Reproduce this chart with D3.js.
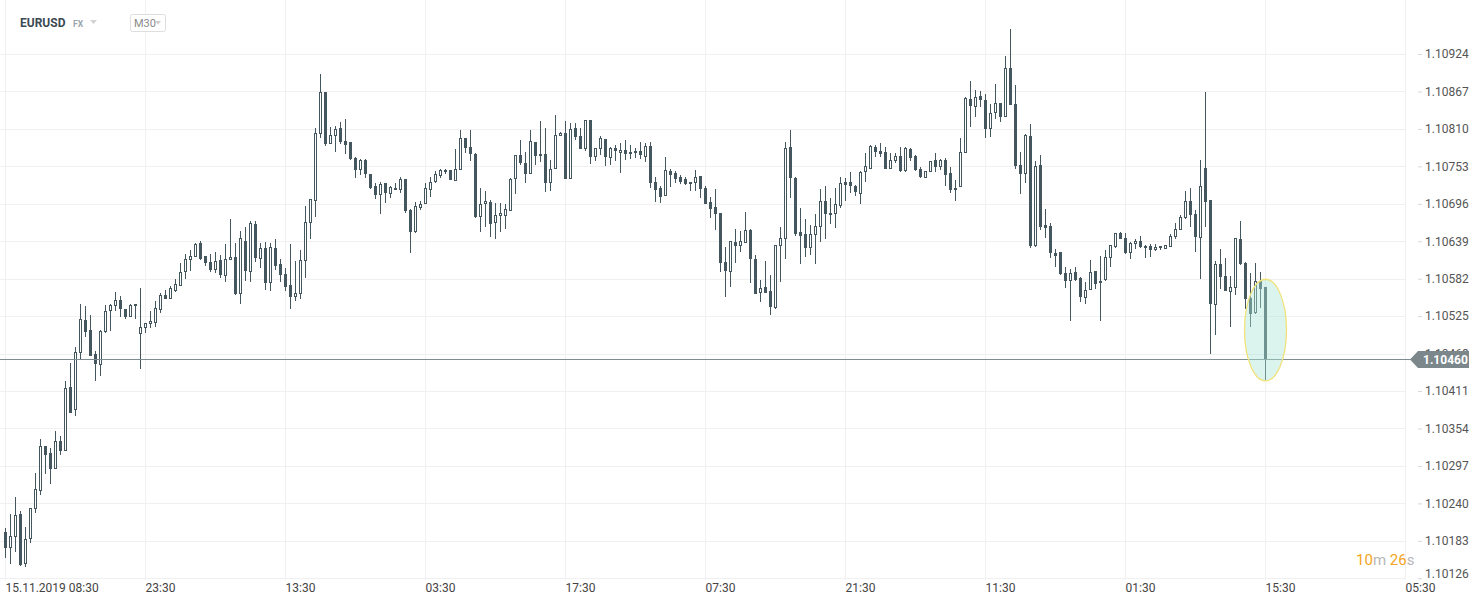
<!DOCTYPE html>
<html><head><meta charset="utf-8">
<script src="https://cdn.jsdelivr.net/npm/d3@7"></script>
<style>
html,body{margin:0;padding:0;background:#fff;overflow:hidden}
svg{display:block;font-family:Roboto,"Liberation Sans",sans-serif}
</style></head><body>
<svg id="chart" width="1482" height="604"></svg>
<script>
// ---- data (EURUSD, M30 candles) ----
const symbol = "EURUSD";
const market = "FX";
const timeframe = "M30";
const priceOpen = [1.10196,1.10172,1.10189,1.10224,1.10148,1.10186,1.10231,1.10259,1.10327,1.10317,
1.10292,1.10335,1.10320,1.10417,1.10382,1.10469,1.10519,1.10504,1.10467,1.10451,
1.10501,1.10533,1.10540,1.10550,1.10536,1.10524,1.10540,1.10498,1.10507,1.10513,
1.10515,1.10534,1.10557,1.10551,1.10563,1.10571,1.10592,1.10610,1.10615,1.10636,
1.10617,1.10607,1.10595,1.10610,1.10586,1.10610,1.10615,1.10559,1.10639,1.10592,
1.10665,1.10612,1.10629,1.10575,1.10629,1.10604,1.10589,1.10572,1.10554,1.10559,
1.10609,1.10667,1.10700,1.10802,1.10866,1.10787,1.10799,1.10811,1.10792,1.10790,
1.10766,1.10747,1.10763,1.10741,1.10723,1.10709,1.10728,1.10711,1.10720,1.10717,
1.10734,1.10687,1.10653,1.10690,1.10696,1.10717,1.10729,1.10738,1.10744,1.10747,
1.10731,1.10747,1.10796,1.10782,1.10772,1.10676,1.10696,1.10699,1.10667,1.10677,
1.10677,1.10685,1.10734,1.10770,1.10758,1.10741,1.10790,1.10772,1.10772,1.10728,
1.10749,1.10799,1.10804,1.10734,1.10811,1.10799,1.10779,1.10824,1.10767,1.10779,
1.10795,1.10766,1.10781,1.10773,1.10778,1.10772,1.10776,1.10776,1.10767,1.10784,
1.10729,1.10720,1.10708,1.10746,1.10743,1.10737,1.10734,1.10726,1.10728,1.10738,
1.10720,1.10699,1.10691,1.10682,1.10607,1.10592,1.10638,1.10632,1.10636,1.10656,
1.10612,1.10560,1.10569,1.10563,1.10537,1.10632,1.10642,1.10782,1.10735,1.10653,
1.10650,1.10629,1.10649,1.10661,1.10700,1.10679,1.10681,1.10693,1.10729,1.10729,
1.10723,1.10711,1.10744,1.10749,1.10782,1.10776,1.10775,1.10749,1.10761,1.10769,
1.10746,1.10779,1.10769,1.10749,1.10735,1.10744,1.10763,1.10752,1.10763,1.10743,
1.10717,1.10722,1.10773,1.10855,1.10843,1.10860,1.10854,1.10810,1.10834,1.10849,
1.10828,1.10903,1.10848,1.10755,1.10741,1.10799,1.10632,1.10755,1.10664,1.10662,
1.10621,1.10623,1.10591,1.10579,1.10592,1.10583,1.10553,1.10565,1.10594,1.10579,
1.10580,1.10614,1.10630,1.10652,1.10644,1.10621,1.10635,1.10639,1.10632,1.10632,
1.10626,1.10632,1.10627,1.10630,1.10645,1.10656,1.10674,1.10700,1.10681,1.10644,
1.10750,1.10702,1.10542,1.10604,1.10586,1.10562,1.10568,1.10642,1.10606,1.10553,
1.10530,1.10579,1.10569];
const priceHigh = [1.10203,1.10224,1.10250,1.10228,1.10204,1.10233,1.10286,1.10338,1.10327,1.10324,
1.10350,1.10343,1.10426,1.10454,1.10478,1.10544,1.10540,1.10527,1.10472,1.10504,
1.10542,1.10544,1.10562,1.10556,1.10536,1.10544,1.10544,1.10568,1.10515,1.10533,
1.10548,1.10560,1.10565,1.10571,1.10582,1.10606,1.10620,1.10626,1.10636,1.10639,
1.10617,1.10620,1.10623,1.10618,1.10635,1.10673,1.10636,1.10655,1.10661,1.10670,
1.10670,1.10636,1.10638,1.10636,1.10642,1.10612,1.10598,1.10635,1.10609,1.10626,
1.10693,1.10703,1.10811,1.10894,1.10866,1.10813,1.10814,1.10821,1.10825,1.10790,
1.10767,1.10764,1.10764,1.10741,1.10728,1.10729,1.10728,1.10723,1.10728,1.10737,
1.10734,1.10688,1.10699,1.10700,1.10728,1.10737,1.10746,1.10749,1.10749,1.10747,
1.10779,1.10808,1.10796,1.10808,1.10773,1.10720,1.10715,1.10702,1.10697,1.10697,
1.10696,1.10735,1.10770,1.10793,1.10775,1.10808,1.10790,1.10822,1.10811,1.10763,
1.10831,1.10805,1.10822,1.10819,1.10819,1.10811,1.10824,1.10824,1.10781,1.10799,
1.10795,1.10782,1.10786,1.10789,1.10793,1.10786,1.10781,1.10790,1.10789,1.10790,
1.10737,1.10723,1.10767,1.10749,1.10746,1.10740,1.10737,1.10729,1.10747,1.10738,
1.10723,1.10706,1.10718,1.10682,1.10630,1.10639,1.10658,1.10655,1.10684,1.10658,
1.10618,1.10580,1.10609,1.10588,1.10633,1.10661,1.10790,1.10808,1.10737,1.10690,
1.10673,1.10664,1.10681,1.10719,1.10723,1.10705,1.10720,1.10737,1.10735,1.10744,
1.10725,1.10746,1.10773,1.10786,1.10786,1.10789,1.10782,1.10773,1.10773,1.10782,
1.10782,1.10781,1.10770,1.10752,1.10746,1.10761,1.10773,1.10764,1.10766,1.10752,
1.10732,1.10796,1.10859,1.10883,1.10869,1.10868,1.10863,1.10848,1.10878,1.10849,
1.10921,1.10962,1.10877,1.10775,1.10802,1.10817,1.10761,1.10770,1.10688,1.10667,
1.10627,1.10623,1.10600,1.10597,1.10600,1.10585,1.10577,1.10610,1.10594,1.10617,
1.10626,1.10633,1.10652,1.10653,1.10652,1.10638,1.10642,1.10647,1.10633,1.10635,
1.10635,1.10632,1.10633,1.10650,1.10667,1.10679,1.10715,1.10720,1.10687,1.10763,
1.10866,1.10702,1.10609,1.10627,1.10614,1.10586,1.10644,1.10670,1.10607,1.10591,
1.10606,1.10592,1.10569];
const priceLow = [1.10157,1.10148,1.10166,1.10145,1.10143,1.10180,1.10225,1.10253,1.10285,1.10270,
1.10292,1.10314,1.10319,1.10377,1.10373,1.10458,1.10493,1.10464,1.10426,1.10434,
1.10499,1.10502,1.10533,1.10524,1.10521,1.10524,1.10521,1.10445,1.10499,1.10507,
1.10508,1.10530,1.10551,1.10551,1.10562,1.10571,1.10582,1.10594,1.10615,1.10610,
1.10601,1.10592,1.10591,1.10583,1.10577,1.10610,1.10557,1.10544,1.10579,1.10577,
1.10607,1.10598,1.10565,1.10563,1.10595,1.10577,1.10563,1.10536,1.10548,1.10551,
1.10583,1.10642,1.10676,1.10796,1.10784,1.10787,1.10775,1.10787,1.10772,1.10763,
1.10735,1.10740,1.10735,1.10719,1.10703,1.10681,1.10697,1.10705,1.10717,1.10712,
1.10682,1.10621,1.10652,1.10687,1.10696,1.10706,1.10728,1.10735,1.10741,1.10732,
1.10731,1.10747,1.10773,1.10761,1.10674,1.10653,1.10661,1.10645,1.10642,1.10653,
1.10658,1.10685,1.10711,1.10755,1.10728,1.10741,1.10755,1.10760,1.10714,1.10715,
1.10749,1.10799,1.10734,1.10734,1.10793,1.10779,1.10776,1.10757,1.10761,1.10770,
1.10754,1.10755,1.10761,1.10743,1.10763,1.10764,1.10766,1.10764,1.10760,1.10720,
1.10699,1.10697,1.10708,1.10722,1.10728,1.10726,1.10725,1.10715,1.10715,1.10705,
1.10696,1.10674,1.10656,1.10592,1.10554,1.10569,1.10606,1.10623,1.10636,1.10575,
1.10559,1.10547,1.10560,1.10527,1.10536,1.10577,1.10612,1.10705,1.10647,1.10604,
1.10615,1.10618,1.10604,1.10638,1.10642,1.10665,1.10659,1.10690,1.10700,1.10712,
1.10708,1.10696,1.10729,1.10749,1.10767,1.10767,1.10749,1.10749,1.10758,1.10744,
1.10744,1.10761,1.10746,1.10735,1.10735,1.10744,1.10744,1.10747,1.10723,1.10712,
1.10700,1.10722,1.10773,1.10813,1.10828,1.10843,1.10796,1.10798,1.10825,1.10821,
1.10828,1.10846,1.10749,1.10711,1.10728,1.10629,1.10630,1.10656,1.10644,1.10613,
1.10600,1.10588,1.10568,1.10518,1.10579,1.10547,1.10544,1.10565,1.10566,1.10518,
1.10579,1.10600,1.10629,1.10642,1.10620,1.10612,1.10627,1.10629,1.10614,1.10615,
1.10624,1.10626,1.10627,1.10630,1.10642,1.10656,1.10673,1.10661,1.10623,1.10582,
1.10661,1.10467,1.10496,1.10566,1.10563,1.10508,1.10557,1.10603,1.10536,1.10508,
1.10528,1.10537,1.10428];
const priceClose = [1.10172,1.10190,1.10222,1.10146,1.10186,1.10233,1.10262,1.10327,1.10314,1.10292,
1.10335,1.10320,1.10416,1.10378,1.10470,1.10521,1.10501,1.10464,1.10452,1.10502,
1.10533,1.10542,1.10550,1.10536,1.10524,1.10542,1.10544,1.10508,1.10515,1.10518,
1.10537,1.10557,1.10551,1.10568,1.10574,1.10592,1.10612,1.10617,1.10635,1.10612,
1.10606,1.10595,1.10609,1.10588,1.10612,1.10615,1.10559,1.10644,1.10594,1.10667,
1.10614,1.10629,1.10575,1.10630,1.10601,1.10588,1.10569,1.10554,1.10560,1.10610,
1.10668,1.10703,1.10804,1.10866,1.10787,1.10801,1.10810,1.10790,1.10786,1.10764,
1.10747,1.10763,1.10741,1.10720,1.10709,1.10726,1.10712,1.10722,1.10717,1.10734,
1.10685,1.10653,1.10693,1.10696,1.10720,1.10729,1.10741,1.10747,1.10747,1.10732,
1.10749,1.10796,1.10781,1.10772,1.10676,1.10696,1.10700,1.10665,1.10679,1.10682,
1.10688,1.10734,1.10770,1.10758,1.10741,1.10792,1.10769,1.10769,1.10728,1.10749,
1.10801,1.10804,1.10734,1.10810,1.10798,1.10779,1.10824,1.10767,1.10781,1.10796,
1.10767,1.10781,1.10776,1.10778,1.10772,1.10775,1.10773,1.10770,1.10784,1.10728,
1.10717,1.10706,1.10747,1.10740,1.10734,1.10729,1.10726,1.10729,1.10737,1.10718,
1.10696,1.10688,1.10681,1.10606,1.10594,1.10639,1.10632,1.10639,1.10656,1.10612,
1.10559,1.10568,1.10560,1.10539,1.10633,1.10644,1.10781,1.10735,1.10650,1.10647,
1.10629,1.10650,1.10662,1.10700,1.10681,1.10682,1.10696,1.10728,1.10725,1.10723,
1.10714,1.10744,1.10753,1.10784,1.10775,1.10772,1.10749,1.10763,1.10769,1.10746,
1.10781,1.10766,1.10747,1.10737,1.10746,1.10761,1.10752,1.10763,1.10740,1.10717,
1.10720,1.10775,1.10857,1.10845,1.10859,1.10854,1.10810,1.10834,1.10849,1.10828,
1.10903,1.10846,1.10753,1.10741,1.10801,1.10632,1.10753,1.10661,1.10659,1.10621,
1.10617,1.10589,1.10579,1.10591,1.10580,1.10554,1.10565,1.10592,1.10574,1.10575,
1.10615,1.10633,1.10652,1.10642,1.10621,1.10636,1.10639,1.10630,1.10629,1.10626,
1.10630,1.10629,1.10633,1.10647,1.10658,1.10676,1.10700,1.10679,1.10645,1.10723,
1.10699,1.10544,1.10604,1.10585,1.10563,1.10569,1.10644,1.10604,1.10551,1.10528,
1.10579,1.10566,1.10460];
const xTickLabels = ["15.11.2019 08:30","23:30","13:30","03:30","17:30","07:30","21:30","11:30","01:30","15:30","05:30"];
const xTickStep = 28;
const yTickValues = [1.10126,1.10183,1.10240,1.10297,1.10354,1.10411,1.10468,1.10525,1.10582,1.10639,1.10696,1.10753,1.10810,1.10867,1.10924];
const lastPrice = 1.10460;
const countdownParts = [["10","m"],["26","s"]];

// ---- drawing ----
const FONT = 'Roboto,"Liberation Sans",sans-serif';
const INK = "#44575f";
const GRID = "#f0f0f0";
const svg = d3.select("#chart");
const n = priceClose.length;
const slotCount = xTickStep * (xTickLabels.length - 1);
const x = d3.scaleLinear().domain([0, slotCount]).range([5, 1405]);
const y = d3.scaleLinear().domain([1.10126, 1.10924]).range([578.3, 54]);
const col = i => Math.round(x(i));
const row = v => Math.round(y(v));

// grid
const grid = svg.append("g");
grid.selectAll("line.h").data(yTickValues).join("line")
  .attr("x1", 0).attr("x2", x(slotCount))
  .attr("y1", d => row(d) + 0.5).attr("y2", d => row(d) + 0.5)
  .attr("stroke", GRID).attr("stroke-width", 1);
const xTickIdx = d3.range(0, slotCount + 1, xTickStep);
grid.selectAll("line.v").data(xTickIdx).join("line")
  .attr("x1", d => col(d) + 0.5).attr("x2", d => col(d) + 0.5)
  .attr("y1", 0).attr("y2", 580)
  .attr("stroke", GRID).attr("stroke-width", 1);

// candles
const candles = d3.range(n).map(i => ({i, o: priceOpen[i], h: priceHigh[i], l: priceLow[i], c: priceClose[i]}));
const cg = svg.append("g");
cg.selectAll("line.wick").data(candles).join("line")
  .attr("x1", d => col(d.i) + 0.5).attr("x2", d => col(d.i) + 0.5)
  .attr("y1", d => row(d.h)).attr("y2", d => row(d.l))
  .attr("stroke", INK).attr("stroke-width", 1);
cg.selectAll("rect.body").data(candles).join("rect")
  .each(function(d) {
    const top = row(Math.max(d.o, d.c)), bot = row(Math.min(d.o, d.c));
    const r = d3.select(this);
    if (d.c > d.o) {
      r.attr("x", col(d.i) - 0.5).attr("y", top + 0.5)
       .attr("width", 2).attr("height", Math.max(0, bot - top - 1))
       .attr("fill", "#fff").attr("stroke", INK).attr("stroke-width", 1);
    } else {
      r.attr("x", col(d.i) - 1).attr("y", top)
       .attr("width", 3).attr("height", Math.max(1, bot - top))
       .attr("fill", INK);
    }
  });

// current price line
const py = row(lastPrice) + 0.5;
svg.append("line").attr("x1", 0).attr("x2", 1411).attr("y1", py).attr("y2", py)
  .attr("stroke", "#7c8c90").attr("stroke-width", 1);

// highlight ellipse around last candle
const last = candles[n - 1];
const eTop = y(last.h) - 8, eBot = y(last.l) + 1;
svg.append("ellipse")
  .attr("cx", col(last.i) + 0.5).attr("cy", (eTop + eBot) / 2)
  .attr("rx", 21).attr("ry", (eBot - eTop) / 2)
  .attr("fill", "rgba(170,232,214,0.42)").attr("stroke", "#f2e27c").attr("stroke-width", 1.3);

// y axis
const yAxis = d3.axisRight(y).tickValues(yTickValues).tickFormat(d3.format(".5f")).tickSize(4).tickPadding(3);
const gy = svg.append("g").attr("transform", "translate(1418,0)").call(yAxis);
gy.select(".domain").remove();
gy.attr("font-family", FONT).attr("font-size", 12);
gy.selectAll(".tick line").attr("stroke", "#d8d8d8");
gy.selectAll(".tick text").attr("fill", "#555");
gy.selectAll(".tick").filter(d => d === yTickValues[0]).select("text").attr("dy", "-0.05em");

// price label
const pl = svg.append("g").attr("transform", `translate(0,${py})`);
pl.append("path").attr("d", "M1410,0 L1418,-8.5 L1469,-8.5 L1469,8.5 L1418,8.5 Z").attr("fill", "#7b878b");
pl.append("text").attr("x", 1423).attr("y", 0).attr("dy", "0.35em")
  .attr("fill", "#fff").attr("font-family", FONT).attr("font-size", 12).attr("font-weight", "bold")
  .text(d3.format(".5f")(lastPrice));

// x axis
const xAxis = d3.axisBottom(x).tickValues(xTickIdx).tickFormat((d, i) => xTickLabels[i]).tickSize(0).tickPadding(3);
const gx = svg.append("g").attr("transform", "translate(0,580)").call(xAxis);
gx.select(".domain").remove();
gx.attr("font-family", FONT).attr("font-size", 12);
gx.selectAll(".tick text").attr("fill", "#444").attr("text-anchor", "start").attr("x", 0);

// countdown
const cd = svg.append("text").attr("x", 1356).attr("y", 565).attr("font-family", FONT).attr("font-size", 15);
countdownParts.forEach((p, k) => {
  cd.append("tspan").attr("fill", "#f5a320").text((k ? " " : "") + p[0]);
  cd.append("tspan").attr("fill", "#b8b8b8").text(p[1]);
});

// header
const hd = svg.append("g").attr("font-family", FONT);
hd.append("text").attr("x", 20).attr("y", 27).attr("font-size", 12).attr("font-weight", "bold").attr("fill", "#3c4a54").text(symbol);
hd.append("text").attr("x", 73).attr("y", 27).attr("font-size", 8.5).attr("font-weight", "bold").attr("fill", "#9aa6ad").text(market);
hd.append("path").attr("d", "M90,20 L97,20 L93.5,24 Z").attr("fill", "#d2d2d2");
hd.append("rect").attr("x", 130.5).attr("y", 14.5).attr("width", 35).attr("height", 17).attr("rx", 2)
  .attr("fill", "#fff").attr("stroke", "#dedede");
hd.append("text").attr("x", 134).attr("y", 27).attr("font-size", 11).attr("fill", "#8a8a8a").text(timeframe);
hd.append("path").attr("d", "M155,21 L161,21 L158,24.5 Z").attr("fill", "#cccccc");
</script>
</body></html>
